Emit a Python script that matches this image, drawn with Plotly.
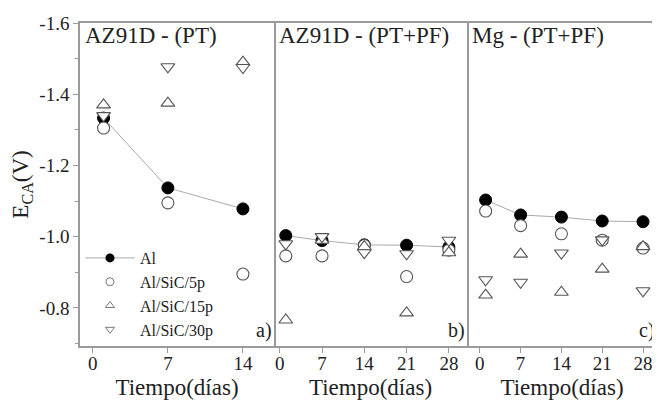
import plotly.graph_objects as go

# ---------------- data ----------------
SERIES = ["Al", "Al/SiC/5p", "Al/SiC/15p", "Al/SiC/30p"]

DAYS_A = [1, 7, 14]
A_AL = [-1.333, -1.137, -1.078]
A_5P = [-1.305, -1.095, -0.895]
A_15P = [-1.370, -1.375, -1.490]
A_30P = [-1.340, -1.477, -1.475]

DAYS_B = [1, 7, 14, 21, 28]
B_AL = [-1.003, -0.989, -0.977, -0.976, -0.971]
B_5P = [-0.946, -0.946, -0.975, -0.888, -0.962]
B_15P = [-0.766, -0.990, -0.972, -0.786, -0.955]
B_30P = [-0.980, -1.000, -0.955, -0.952, -0.990]

DAYS_C = [1, 7, 14, 21, 28]
C_AL = [-1.103, -1.061, -1.055, -1.044, -1.042]
C_5P = [-1.072, -1.031, -1.008, -0.990, -0.968]
C_15P = [-0.836, -0.951, -0.844, -0.909, -0.972]
C_30P = [-0.879, -0.872, -0.954, -0.991, -0.848]

PANEL_TITLES = ["AZ91D - (PT)", "AZ91D - (PT+PF)", "Mg - (PT+PF)"]
PANEL_LABELS = ["a)", "b)", "c)"]
X_TICKS_A = [0, 7, 14]
X_TICKS_BC = [0, 7, 14, 21, 28]
Y_TICKS = [-1.6, -1.4, -1.2, -1.0, -0.8]
Y_TICKTEXT = ["-1.6", "-1.4", "-1.2", "-1.0", "-0.8"]
X_TITLE = "Tiempo(días)"
Y_TITLE = "E<sub>CA</sub>(V)"

# ---------------- style ----------------
FONT = "Liberation Serif"
FRAME = "#9a9a9a"
EDGE = "#555555"
SYMBOLS = ["circle", "circle", "triangle-up", "triangle-down"]

panels = [
    (DAYS_A, [A_AL, A_5P, A_15P, A_30P], "x", "y"),
    (DAYS_B, [B_AL, B_5P, B_15P, B_30P], "x2", "y2"),
    (DAYS_C, [C_AL, C_5P, C_15P, C_30P], "x3", "y3"),
]

fig = go.Figure()

for days, vals, xa, ya in panels:
    for i, (name, v) in enumerate(zip(SERIES, vals)):
        if i == 0:
            fig.add_trace(go.Scatter(
                x=days, y=v, mode="lines+markers", name=name, showlegend=False,
                line=dict(color="#aaaaaa", width=1),
                marker=dict(symbol="circle", size=12, color="black",
                            line=dict(color="black", width=1)),
                xaxis=xa, yaxis=ya))
        else:
            fig.add_trace(go.Scatter(
                x=days, y=v, mode="markers", name=name, showlegend=False,
                marker=dict(symbol=SYMBOLS[i], size=12,
                            color="white", line=dict(color=EDGE, width=1.1)),
                xaxis=xa, yaxis=ya))

# legend-only entries (smaller symbols, as in the original)
for i, name in enumerate(SERIES):
    if i == 0:
        fig.add_trace(go.Scatter(
            x=[None], y=[None], mode="lines+markers", name=name,
            line=dict(color="#aaaaaa", width=1),
            marker=dict(symbol="circle", size=9, color="black"),
            xaxis="x", yaxis="y"))
    else:
        fig.add_trace(go.Scatter(
            x=[None], y=[None], mode="markers", name=name,
            marker=dict(symbol=SYMBOLS[i], size=8,
                        color="white", line=dict(color="#777777", width=1)),
            xaxis="x", yaxis="y"))

# page has an 8px body margin: figure is drawn at (8, 8)
W, H = 652, 399
ML, MR, MT, MB = 72, 3, 15, 61
OFF = 8
pw = W - ML - MR
d1 = (274 - OFF - ML) / pw
d2 = (467 - OFF - ML) / pw
domains = [[0, d1], [d1, d2], [d2, 1]]
xranges = [[-1.2, 16.9], [-0.95, 31.0], [-2.2, 30.4]]
xticks = [X_TICKS_A, X_TICKS_BC, X_TICKS_BC]

axis_common = dict(showline=True, linecolor=FRAME, linewidth=1.5,
                   showgrid=False, zeroline=False,
                   tickfont=dict(family=FONT, size=19, color="#222"))

for k in range(3):
    key = "xaxis" if k == 0 else f"xaxis{k+1}"
    fig.layout[key] = dict(
        axis_common, mirror=True, domain=domains[k], range=xranges[k],
        tickmode="array", tickvals=xticks[k], ticktext=[str(t) for t in xticks[k]],
        ticks="outside", ticklen=5, tickcolor=FRAME, ticklabelstandoff=-6,
        anchor="y" if k == 0 else f"y{k+1}",
        title=dict(text=X_TITLE, font=dict(family=FONT, size=23, color="#222"), standoff=6),
    )
    ykey = "yaxis" if k == 0 else f"yaxis{k+1}"
    ydict = dict(axis_common, range=[-0.693, -1.6], domain=[0, 1],
                 anchor="x" if k == 0 else f"x{k+1}")
    if k == 0:
        ydict.update(mirror=True, tickmode="array", tickvals=Y_TICKS, ticktext=Y_TICKTEXT,
                     ticks="outside", ticklen=5, tickcolor=FRAME,
                     minor=dict(tickmode="linear", tick0=-1.6, dtick=0.1,
                                ticks="outside", ticklen=3, tickcolor=FRAME),
                     title=dict(text=Y_TITLE, font=dict(family=FONT, size=23, color="#222"),
                                standoff=10))
    else:
        # only the right-hand border: the left one is the previous panel's edge
        ydict.update(mirror=False, side="right", showticklabels=False, ticks="")
    fig.layout[ykey] = ydict

annotations = []
for k in range(3):
    annotations.append(dict(
        text=PANEL_TITLES[k], xref="paper", yref="paper", x=domains[k][0], y=1,
        xanchor="left", yanchor="top", xshift=3, yshift=2, showarrow=False,
        font=dict(family=FONT, size=23, color="#222")))
    annotations.append(dict(
        text=PANEL_LABELS[k], xref="paper", yref="paper", x=domains[k][1], y=0,
        xanchor="right", yanchor="bottom", xshift=0, yshift=2, showarrow=False,
        font=dict(family=FONT, size=20, color="#222")))

fig.update_layout(
    width=W, height=H,
    margin=dict(l=ML, r=MR, t=MT, b=MB, autoexpand=False),
    paper_bgcolor="white", plot_bgcolor="white",
    font=dict(family=FONT, color="#222"),
    annotations=annotations,
    showlegend=True,
    legend=dict(x=0, y=0.325, xanchor="left", yanchor="top",
                bgcolor="rgba(0,0,0,0)", borderwidth=0,
                font=dict(family=FONT, size=16, color="#222"),
                itemwidth=50, tracegroupgap=0),
)

fig.write_html("out.html")
